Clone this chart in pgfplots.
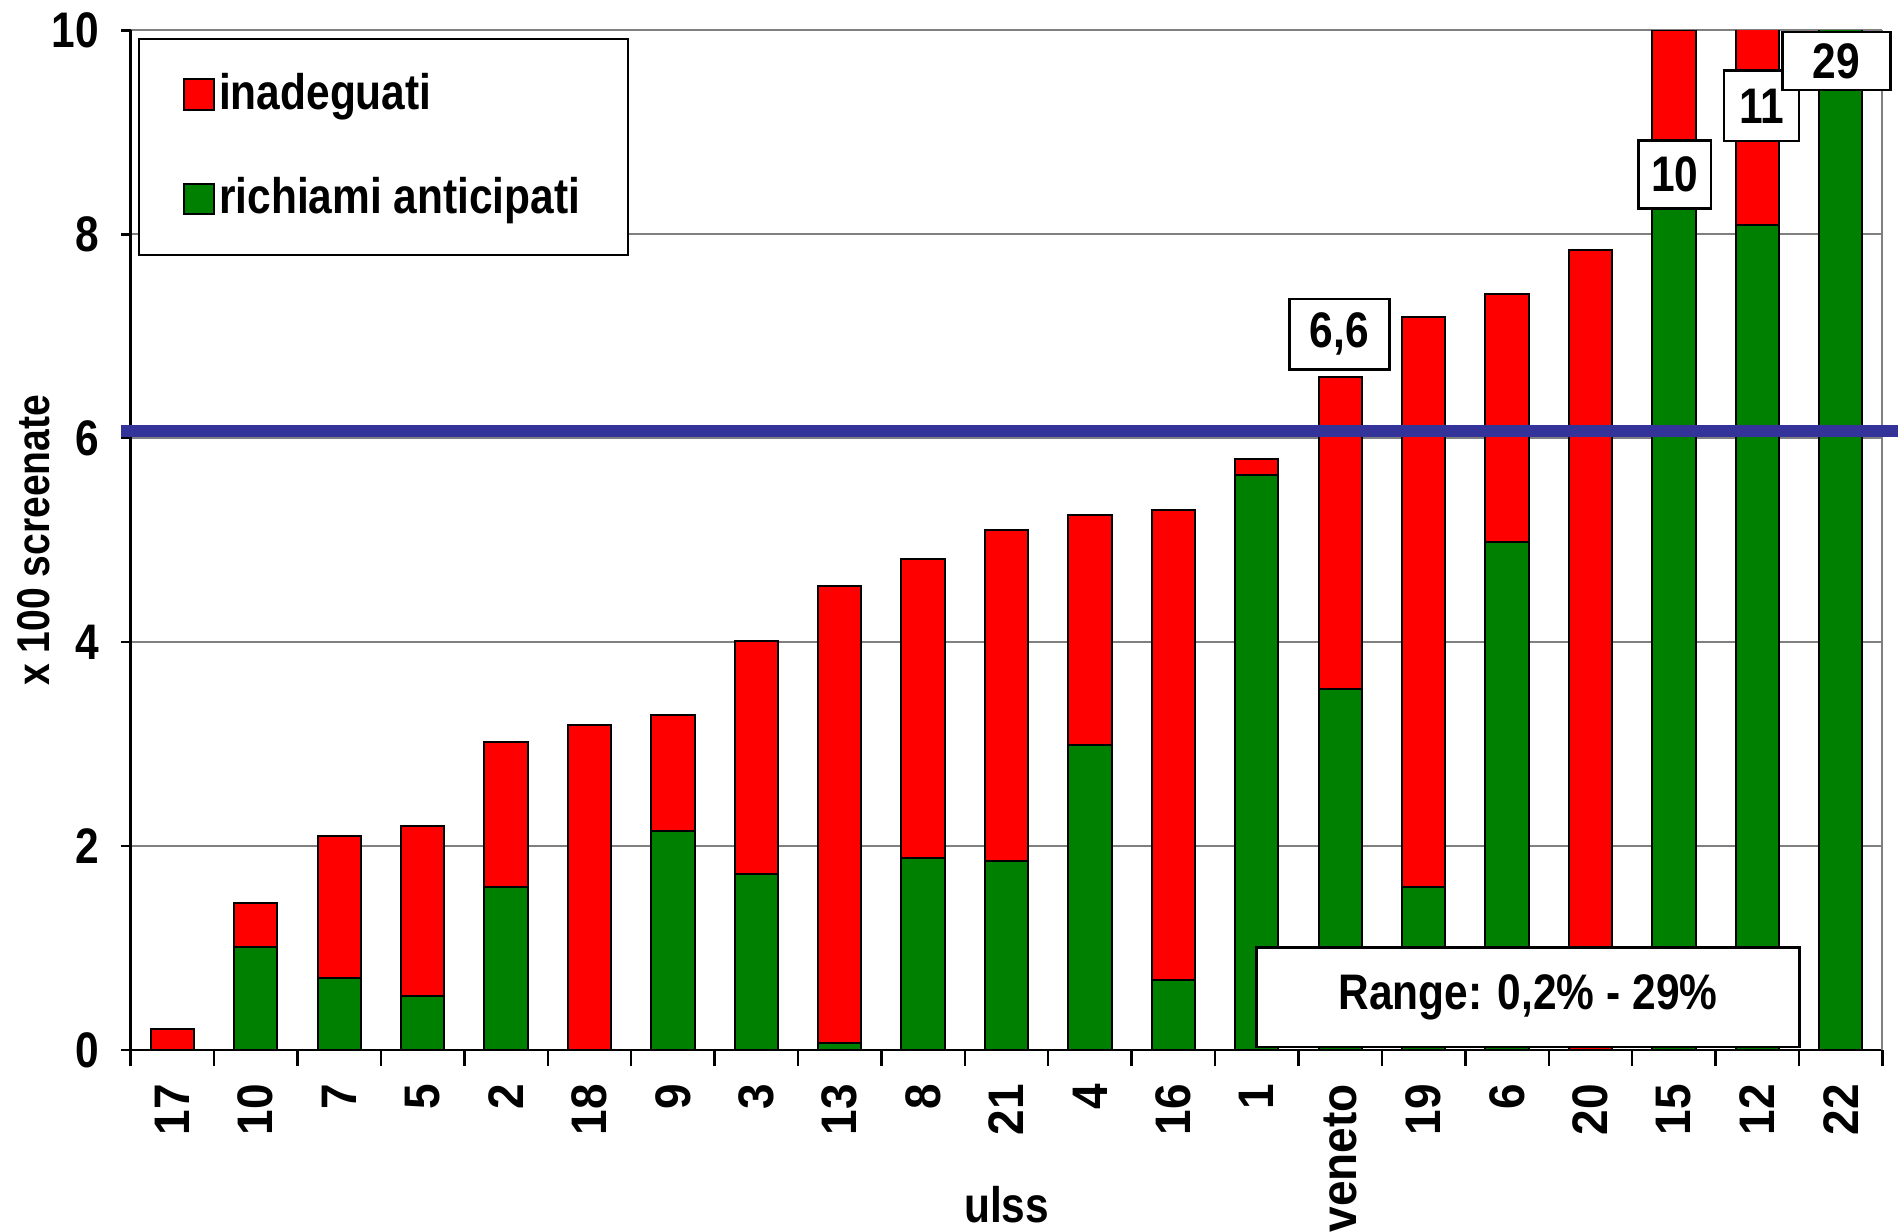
\documentclass[border=0pt]{standalone}
\usepackage{pgfplots}
\pgfplotsset{compat=1.18}
\usepackage{fontspec}
\setmainfont{Liberation Sans}[FakeStretch=0.85]
\newfontfamily\xtickfont{Liberation Sans}[FakeStretch=0.92]
\definecolor{xred}{RGB}{255,0,0}
\definecolor{xgreen}{RGB}{0,128,0}
\definecolor{xblue}{RGB}{51,51,153}
\newcommand{\lbl}{\fontsize{12.5}{15}\selectfont\bfseries}
\pgfplotsset{sqlegend/.style={legend image code/.code={\draw[##1,draw=black,line width=0.5pt] (0pt,-3.8pt) rectangle (7.6pt,3.8pt);}}}
\tikzset{box/.style={draw=black, fill=white, line width=0.7pt, inner sep=0pt, font=\lbl}}
\begin{document}
\begin{tikzpicture}
\path[use as bounding box] (-32.7pt,-45.5pt) rectangle (442.3pt,262.8pt);
\begin{axis}[
  width=438.4pt, height=255.2pt, scale only axis,
  xmin=-0.5, xmax=20.5, ymin=0, ymax=10,
  axis x line*=bottom, axis y line*=left,
  axis line style={black, line width=0.6pt},
  ybar stacked, bar width=0.52,
  xtick={0,...,20},
  xticklabels={17,10,7,5,2,18,9,3,13,8,21,4,16,1,veneto,19,6,20,15,12,22},
  minor xtick={-0.5,0.5,...,20.5},
  major x tick style={draw=none},
  ytick={0,2,...,10},
  tick align=outside,
  tick style={black, line width=0.6pt},
  major tick length=2.4pt, minor tick length=4pt,
  ymajorgrids, grid style={gray, line width=0.5pt},
  /pgf/number format/assume math mode=true,
  yticklabel style={font=\lbl},
  yticklabel shift=2pt,
  xticklabel style={font=\fontsize{12.5}{15}\selectfont\xtickfont\bfseries, rotate=90, anchor=east},
  xticklabel shift=2.6pt,
  xlabel={ulss}, ylabel={x 100 screenate},
  every axis x label/.style={at={(axis description cs:0.5,-0.152)}, anchor=center, font=\lbl},
  every axis y label/.style={at={(axis description cs:-0.0552,0.5)}, rotate=90, anchor=center, font=\fontsize{11.5}{14}\selectfont\bfseries},
  reverse legend, legend cell align=left,
  legend style={at={(axis description cs:0.0041,0.993)}, anchor=north west, draw=black, line width=0.5pt, fill=white, font=\lbl, inner xsep=11pt, inner ysep=6.75pt, row sep=11.5pt, nodes={inner xsep=1pt, inner ysep=2pt}},
]
\addplot[fill=xgreen, draw=black, line width=0.5pt, sqlegend] coordinates {
(0,0) (1,1.01) (2,0.71) (3,0.53) (4,1.60) (5,0) (6,2.15) (7,1.73) (8,0.07) (9,1.88) (10,1.85)
(11,2.99) (12,0.69) (13,5.64) (14,3.54) (15,1.60) (16,4.98) (17,0) (18,8.5) (19,8.09) (20,29)};
\addlegendentry{richiami anticipati}
\addplot[fill=xred, draw=black, line width=0.5pt, sqlegend] coordinates {
(0,0.21) (1,0.43) (2,1.39) (3,1.67) (4,1.42) (5,3.19) (6,1.14) (7,2.28) (8,4.48) (9,2.94) (10,3.25)
(11,2.26) (12,4.61) (13,0.16) (14,3.06) (15,5.59) (16,2.43) (17,7.85) (18,1.5) (19,2.91) (20,0)};
\addlegendentry{inadeguati}
\end{axis}
\begin{axis}[
  width=438.4pt, height=255.2pt, scale only axis,
  xmin=-0.5, xmax=20.5, ymin=0, ymax=10,
  hide axis, clip=false,
]
\draw[gray, line width=0.5pt] (rel axis cs:1,0) -- (rel axis cs:1,1);
\addplot[xblue, line width=3pt, forget plot] coordinates {(-0.62,6.07) (20.7,6.07)};
\node[box, minimum width=25pt, minimum height=17.6pt] at (axis cs:13.99,7.02) {6,6};
\node[box, minimum width=18.2pt, minimum height=17pt] at (axis cs:18.01,8.59) {10};
\node[box, minimum width=18.8pt, minimum height=17.6pt] at (axis cs:19.05,9.26) {11};
\node[box, minimum width=27pt, minimum height=14.5pt] at (axis cs:19.95,9.70) {29};
\node[box, minimum width=135.8pt, minimum height=25pt] at (axis cs:16.25,0.52) {Range: 0,2\% - 29\%};
\end{axis}
\end{tikzpicture}
\end{document}
